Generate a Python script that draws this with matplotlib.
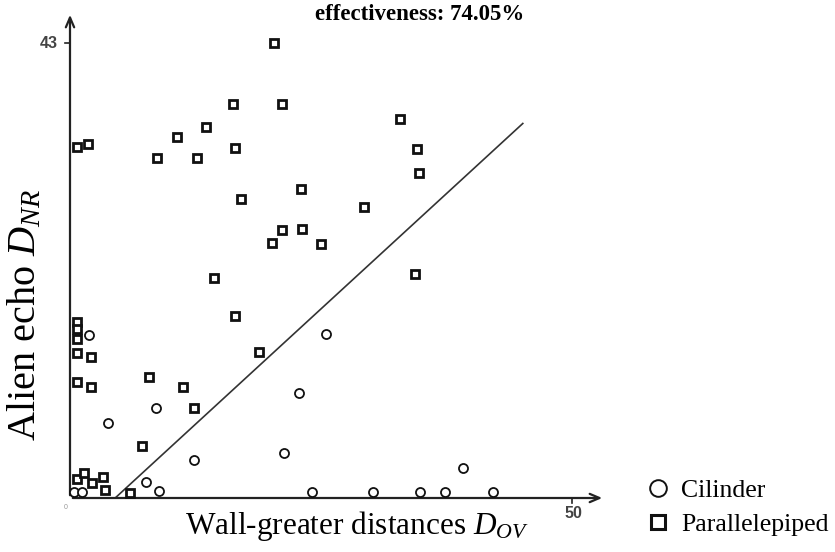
import matplotlib
matplotlib.use("Agg")
import matplotlib.pyplot as plt
from matplotlib.lines import Line2D

plt.rcParams['font.family'] = ['Liberation Serif', 'DejaVu Serif']
plt.rcParams['mathtext.fontset'] = 'custom'
plt.rcParams['mathtext.rm'] = 'Liberation Serif'
plt.rcParams['mathtext.it'] = 'Liberation Serif:italic'

# Parallelepiped points (D_OV, D_NR)
par_x = [20.3, 16.2, 21.1, 13.5, 10.7, 8.7, 12.6, 16.4, 0.7, 1.8,
         17.0, 23.0, 14.3, 16.4, 20.1, 21.1, 23.1, 25.0, 29.3, 32.9,
         34.6, 34.8, 34.4, 18.8, 0.7, 0.7, 0.7, 0.7, 0.7, 2.1,
         2.1, 7.9, 11.3, 12.4, 7.2, 0.7, 1.4, 2.2, 3.3, 3.5, 6.0]
par_y = [43.0, 37.2, 37.2, 35.1, 34.1, 32.1, 32.1, 33.1, 33.2, 33.5,
         28.3, 29.2, 20.8, 17.2, 24.1, 25.3, 25.4, 24.0, 27.5, 35.8,
         33.0, 30.7, 21.2, 13.8, 16.6, 16.0, 15.0, 13.7, 11.0, 13.3,
         10.5, 11.4, 10.5, 8.5, 4.9, 1.8, 2.4, 1.4, 2.0, 0.8, 0.5]

# Cilinder points
cil_x = [1.9, 3.8, 8.6, 12.4, 25.5, 22.8, 21.3, 7.6, 8.9, 0.4,
         1.2, 24.1, 30.2, 34.9, 37.4, 39.1, 42.1]
cil_y = [15.4, 7.1, 8.5, 3.6, 15.5, 9.9, 4.3, 1.5, 0.7, 0.6,
         0.6, 0.6, 0.6, 0.6, 0.6, 2.8, 0.6]

# separating line
line_x = [4.5, 45.1]
line_y = [0.0, 35.4]

W, H = 835, 552
fig = plt.figure(figsize=(W / 100, H / 100), dpi=100)
x0, y0, x1, y1 = 70, 498, 605, 12
ax = fig.add_axes([x0 / W, 1 - y0 / H, (x1 - x0) / W, (y0 - y1) / H])
ax.set_xlim(0, (x1 - x0) / 10.04)
ax.set_ylim(0, (y0 - y1) / 10.58)
for s in ax.spines.values():
    s.set_visible(False)
ax.set_xticks([])
ax.set_yticks([])

# axes with arrows
arrow = dict(arrowstyle='->,head_length=0.7,head_width=0.3', lw=1.6, color='#222')
ax.annotate('', xy=(1, 0), xytext=(0, 0), xycoords='axes fraction',
            arrowprops=arrow, annotation_clip=False)
ax.annotate('', xy=(0, 1), xytext=(0, 0), xycoords='axes fraction',
            arrowprops=arrow, annotation_clip=False)

# single ticks
ax.plot([50, 50], [0, -0.5], color='#222', lw=1.2, clip_on=False)
ax.plot([0, -0.5], [43, 43], color='#222', lw=1.2, clip_on=False)
ax.text(50.1, -0.8, '50', ha='center', va='top', fontsize=11.5, fontweight='bold',
        family='Liberation Sans', color='#444')
ax.text(-1.2, 43, '43', ha='right', va='center', fontsize=11.5, fontweight='bold',
        family='Liberation Sans', color='#444')
ax.text(-0.4, -0.9, '0', ha='center', va='center', fontsize=5, color='#999',
        family='Liberation Sans')

ax.plot(line_x, line_y, color='#333', lw=1.2)
ax.plot(cil_x, cil_y, 'o', ms=6.5, mfc='white', mec='#111', mew=1.3, clip_on=False, zorder=3)
ax.plot(par_x, par_y, 's', ms=6, mfc='white', mec='#111', mew=2.0, clip_on=False, zorder=3)

fig.text(420 / W, 1 - 14 / H, 'effectiveness: 74.05%', ha='center', va='center',
         fontsize=16.5, fontweight='bold')
fig.text(357 / W, 1 - 526 / H, r'Wall-greater distances $D_{OV}$', ha='center', va='center',
         fontsize=22.5)
fig.text(25 / W, 1 - 315 / H, r'Alien echo $D_{NR}$', ha='center', va='center',
         fontsize=29, rotation=90)

handles = [Line2D([], [], ls='', marker='o', ms=12, mfc='white', mec='#111', mew=1.4),
           Line2D([], [], ls='', marker='s', ms=10, mfc='white', mec='#111', mew=2.2)]
fig.legend(handles, ['Cilinder', 'Parallelepiped'], loc='lower left',
           bbox_to_anchor=(630 / W, 3 / H), frameon=False, fontsize=18.5,
           handletextpad=0.3, labelspacing=0.45, borderpad=0, handlelength=1.2)

fig.savefig('out.png', dpi=100)
